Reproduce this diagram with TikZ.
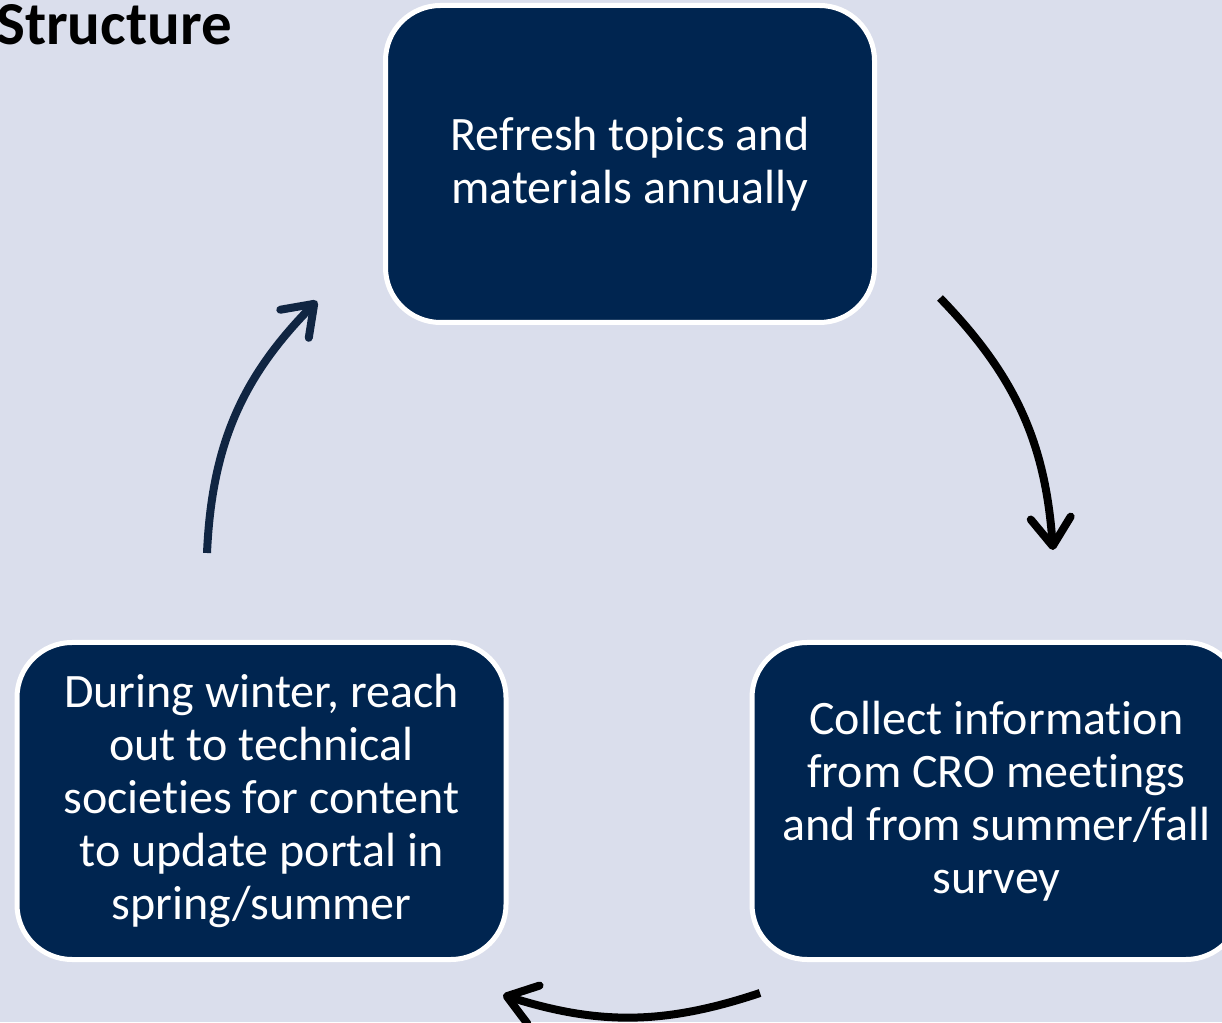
\documentclass[tikz,border=0pt]{standalone}
\usepackage{fontspec}
\setmainfont{Carlito}[Ligatures=NoCommon]
\usetikzlibrary{arrows.meta}
\definecolor{backdrop}{RGB}{218,222,236}
\definecolor{navy}{RGB}{0,37,80}
\definecolor{arrownavy}{RGB}{16,37,66}

\begin{document}
\begin{tikzpicture}[x=1pt,y=1pt,
        box/.style={draw=white,line width=5pt,fill=navy,rounded corners=55pt,
            minimum width=489pt,minimum height=317pt,text=white,align=center,
            font=\fontsize{48}{53}\selectfont},
        cycle/.style={line width=8pt,-{Straight Barb[length=28pt,width=40pt,round]}}]
        \useasboundingbox (0,0) rectangle (1222,1022);
        \fill[backdrop] (0,0) rectangle (1222,1022);

        \node[anchor=base east,inner sep=0pt,font=\fontsize{61}{61}\selectfont\bfseries] (title) at (232,977) {Structure};

        \node[box] (refresh) at (630,858) {Refresh topics and\\materials annually};
        \node[box] (collect) at (996.5,221) {Collect information\\from CRO meetings\\and from summer/fall\\survey};
        \node[box] (reach) at (261.5,221) {During winter, reach\\out to technical\\societies for content\\to update portal in\\spring/summer};

        % arrows round the cycle
        \coordinate (r1) at (940,724);
        \coordinate (c1) at (1053,472);
        \coordinate (c2) at (760,29);
        \coordinate (w1) at (503,27);
        \coordinate (w2) at (207,469);
        \coordinate (r2) at (317,721);

        \draw[cycle] (r1) to[bend left=20] (c1);
        \draw[cycle] (c2) to[bend left=18] (w1);
        \draw[cycle,arrownavy] (w2) to[bend left=21] (r2);
    \end{tikzpicture}
\end{document}
